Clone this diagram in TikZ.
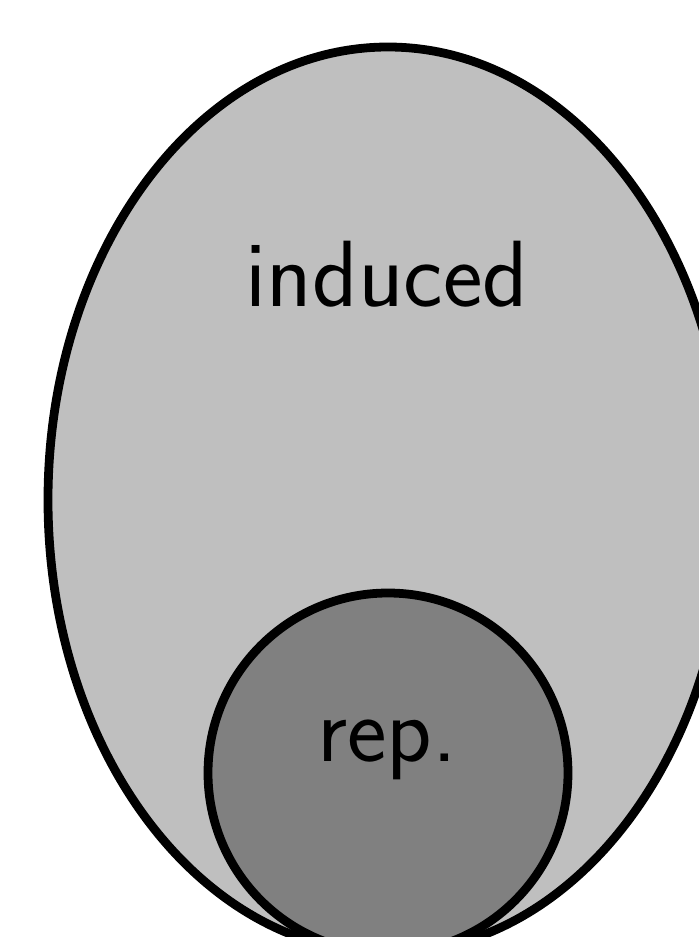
\documentclass[tikz,border=0pt]{standalone}
\begin{document}
\begin{tikzpicture}[line width=2.5pt, font=\sffamily\fontsize{26.8}{32}\selectfont]
          \clip (0,0) rectangle (6.99,9.37);
          \draw[fill=black!25] (3.88,4.37) ellipse (3.4 and 4.53);
          \draw[fill=black!50] (3.88,1.64) circle (1.8);
          \node[anchor=base] (induced) at (3.87,6.31) {induced};
          \node[anchor=base] (rep) at (3.87,1.76) {rep.};
        \end{tikzpicture}
\end{document}
